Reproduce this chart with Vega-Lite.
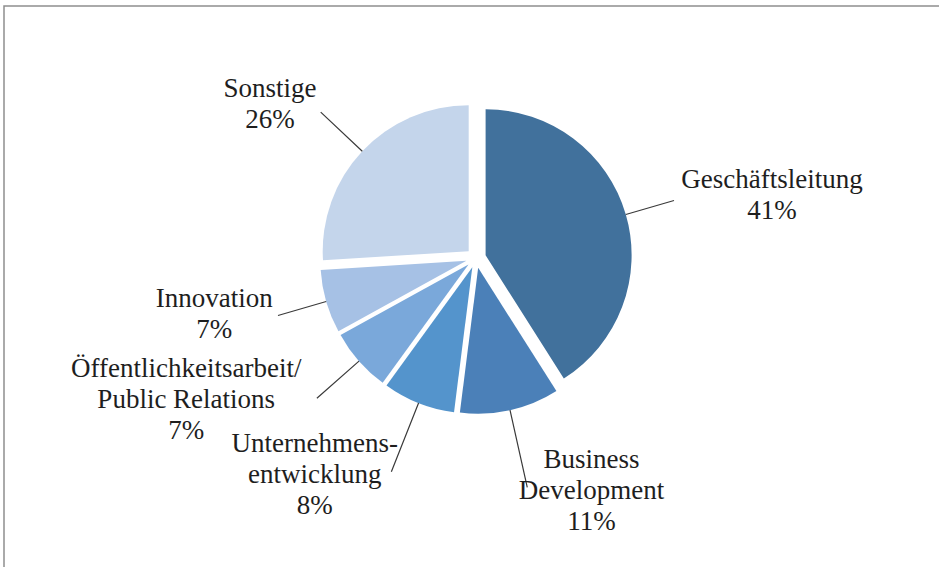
{
  "$schema": "https://vega.github.io/schema/vega-lite/v6.json",
  "width": 939,
  "height": 567,
  "autosize": {"type": "fit", "contains": "padding"},
  "padding": {"left": 4, "top": 6, "right": -3, "bottom": -3},
  "background": "white",
  "config": {
    "view": {"stroke": "#8e8e8e", "strokeWidth": 1.5},
    "style": {"view": {"stroke": "#8e8e8e", "strokeWidth": 1.5}}
  },
  "data": {
    "values": [
      {"bereich": "Geschäftsleitung", "anteil": 41, "rang": 1, "label": "Geschäftsleitung\n41%"},
      {"bereich": "Business Development", "anteil": 11, "rang": 2, "label": "Business\nDevelopment\n11%"},
      {"bereich": "Unternehmensentwicklung", "anteil": 8, "rang": 3, "label": "Unternehmens-\nentwicklung\n8%"},
      {"bereich": "Öffentlichkeitsarbeit/Public Relations", "anteil": 7, "rang": 4, "label": "Öffentlichkeitsarbeit/\nPublic Relations\n7%"},
      {"bereich": "Innovation", "anteil": 7, "rang": 5, "label": "Innovation\n7%"},
      {"bereich": "Sonstige", "anteil": 26, "rang": 6, "label": "Sonstige\n26%"}
    ]
  },
  "encoding": {
    "theta": {"field": "anteil", "type": "quantitative", "stack": true},
    "order": {"field": "rang", "type": "quantitative"}
  },
  "layer": [
    {
      "mark": {
        "type": "arc",
        "radius": 146,
        "xOffset": {"expr": "3 + 10 * sin(scale('theta', (datum.anteil_start + datum.anteil_end) / 2))"},
        "yOffset": {"expr": "-30 - 10 * cos(scale('theta', (datum.anteil_start + datum.anteil_end) / 2))"}
      },
      "encoding": {
        "color": {
          "field": "bereich",
          "type": "nominal",
          "scale": {
            "domain": ["Geschäftsleitung", "Business Development", "Unternehmensentwicklung", "Öffentlichkeitsarbeit/Public Relations", "Innovation", "Sonstige"],
            "range": ["#41719c", "#4b80b8", "#5494cc", "#7aa8da", "#a6c1e5", "#c4d5eb"]
          },
          "legend": null
        }
      }
    },
    {
      "mark": {
        "type": "arc",
        "padAngle": 3.1416,
        "radius2": 146,
        "radius": {"expr": "196 + 32 * pow(abs(cos(scale('theta', (datum.anteil_start + datum.anteil_end) / 2))), 4)"},
        "fill": null,
        "stroke": "#3a3a3a",
        "strokeWidth": 1.2,
        "xOffset": {"expr": "3 + 10 * sin(scale('theta', (datum.anteil_start + datum.anteil_end) / 2))"},
        "yOffset": {"expr": "-30 - 10 * cos(scale('theta', (datum.anteil_start + datum.anteil_end) / 2))"}
      }
    },
    {
      "mark": {
        "type": "text",
        "font": "Liberation Serif",
        "fontSize": 27,
        "lineHeight": 31,
        "lineBreak": "\n",
        "color": "#1e1e1e",
        "align": "center",
        "baseline": "middle",
        "radius": {"expr": "203 + 32 * pow(abs(cos(scale('theta', (datum.anteil_start + datum.anteil_end) / 2))), 4)"},
        "dx": {"expr": "(sin(scale('theta', (datum.anteil_start + datum.anteil_end) / 2)) > 0 ? 1 : -1) * 5.7 * max(length(split(datum.label, '\\n')[0]), length(split(datum.label, '\\n')[1] || ''), length(split(datum.label, '\\n')[2] || ''))"},
        "dy": {"expr": "-3 - 15.5 * (length(split(datum.label, '\\n')) - 1)"},
        "xOffset": {"expr": "3 + 10 * sin(scale('theta', (datum.anteil_start + datum.anteil_end) / 2))"},
        "yOffset": {"expr": "-30 - 10 * cos(scale('theta', (datum.anteil_start + datum.anteil_end) / 2))"}
      },
      "encoding": {
        "text": {"field": "label", "type": "nominal"}
      }
    }
  ]
}
